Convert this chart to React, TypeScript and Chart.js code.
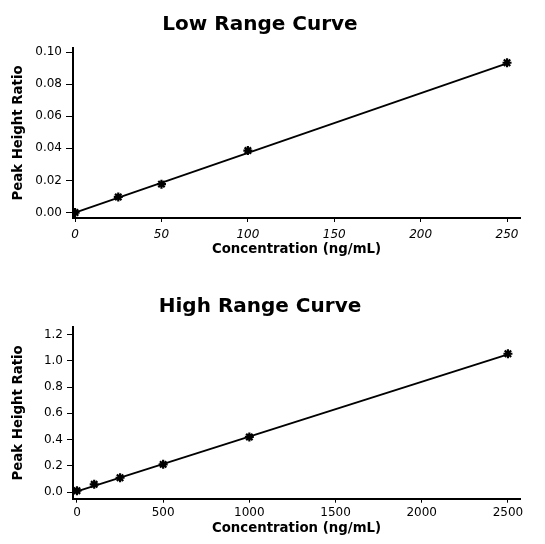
import React, { useEffect, useRef } from "react";
import { Chart, registerables } from "chart.js";

Chart.register(...registerables);

// Low range data
const lowConc = [0, 25, 50, 100, 250];
const lowRatio = [0.0, 0.0097, 0.0177, 0.0386, 0.0933];
const lowFitX = [0, 250];
const lowFitY = [-0.0001, 0.0929];
const lowXTicks = [0, 50, 100, 150, 200, 250];
const lowYTicks = [0, 0.02, 0.04, 0.06, 0.08, 0.1];

// High range data
const highConc = [0, 100, 250, 500, 1000, 2500];
const highRatio = [0.01, 0.059, 0.109, 0.211, 0.42, 1.055];
const highFitX = [0, 2500];
const highFitY = [0.005, 1.05];
const highXTicks = [0, 500, 1000, 1500, 2000, 2500];
const highYTicks = [0, 0.2, 0.4, 0.6, 0.8, 1.0, 1.2];

const FONT = "'DejaVu Sans', sans-serif";

type Cfg = {
  title: string;
  titlePad: { top: number; bottom: number };
  xs: number[];
  ys: number[];
  fitX: number[];
  fitY: number[];
  xTicks: number[];
  yTicks: number[];
  xMin: number;
  xMax: number;
  yMin: number;
  yMax: number;
  yDecimals: number;
  xItalic: boolean;
  xHeight: number;
  xTickPad: number;
  xTitlePadBottom: number;
  yTickLen: number;
};

function makeChart(canvas: HTMLCanvasElement, c: Cfg) {
  return new Chart(canvas, {
    type: "scatter",
    data: {
      datasets: [
        {
          type: "line",
          data: c.fitX.map((x, i) => ({ x, y: c.fitY[i] })),
          borderColor: "#000",
          borderWidth: 1.8,
          pointRadius: 0,
          fill: false,
        },
        {
          type: "scatter",
          data: c.xs.map((x, i) => ({ x, y: c.ys[i] })),
          pointStyle: "star",
          pointRadius: 4.5,
          borderWidth: 2.2,
          borderColor: "#000",
          backgroundColor: "#000",
        },
      ],
    },
    options: {
      responsive: false,
      animation: false,
      layout: { padding: { left: 0, right: 25, top: 0, bottom: 0 } },
      plugins: {
        legend: { display: false },
        tooltip: { enabled: false },
        title: {
          display: true,
          text: c.title,
          color: "#000",
          font: { family: FONT, size: 20, weight: "bold", lineHeight: 1.2 },
          padding: c.titlePad,
        },
      },
      scales: {
        x: {
          type: "linear",
          min: c.xMin,
          max: c.xMax,
          afterBuildTicks: (s: any) => {
            s.ticks = c.xTicks.map((v) => ({ value: v }));
          },
          afterFit: (s: any) => {
            s.height = c.xHeight;
          },
          ticks: {
            color: "#000",
            font: { family: FONT, size: 12, style: c.xItalic ? "italic" : "normal" },
            padding: c.xTickPad,
            maxRotation: 0,
            autoSkip: false,
            callback: (v: any) => String(v),
          },
          grid: {
            display: true,
            drawOnChartArea: false,
            drawTicks: true,
            tickLength: 4,
            color: "#000",
            lineWidth: 1,
          },
          border: { display: true, color: "#000", width: 2 },
          title: {
            display: true,
            text: "Concentration (ng/mL)",
            color: "#000",
            font: { family: FONT, size: 13.3, weight: "bold", lineHeight: 1.2 },
            padding: { top: 0, bottom: c.xTitlePadBottom },
          },
        },
        y: {
          type: "linear",
          min: c.yMin,
          max: c.yMax,
          afterBuildTicks: (s: any) => {
            s.ticks = c.yTicks.map((v) => ({ value: v }));
          },
          afterFit: (s: any) => {
            s.width = 73;
          },
          ticks: {
            color: "#000",
            font: { family: FONT, size: 12 },
            padding: 4,
            autoSkip: false,
            callback: (v: any) => Number(v).toFixed(c.yDecimals),
          },
          grid: {
            display: true,
            drawOnChartArea: false,
            drawTicks: true,
            tickLength: c.yTickLen,
            color: "#000",
            lineWidth: 1,
          },
          border: { display: true, color: "#000", width: 2 },
          title: {
            display: true,
            text: "Peak Height Ratio",
            color: "#000",
            font: { family: FONT, size: 13.3, weight: "bold", lineHeight: 1.2 },
            padding: { top: 11, bottom: 0 },
          },
        },
      },
    },
  } as any);
}

const lowCfg: Cfg = {
  title: "Low Range Curve",
  titlePad: { top: 12.5, bottom: 11.5 },
  xs: lowConc,
  ys: lowRatio,
  fitX: lowFitX,
  fitY: lowFitY,
  xTicks: lowXTicks,
  yTicks: lowYTicks,
  xMin: -1.2,
  xMax: 257.5,
  yMin: -0.0034,
  yMax: 0.1025,
  yDecimals: 2,
  xItalic: true,
  xHeight: 54,
  xTickPad: 6,
  xTitlePadBottom: 14.6,
  yTickLen: 7,
};

const highCfg: Cfg = {
  title: "High Range Curve",
  titlePad: { top: 22.5, bottom: 8.5 },
  xs: highConc,
  ys: highRatio,
  fitX: highFitX,
  fitY: highFitY,
  xTicks: highXTicks,
  yTicks: highYTicks,
  xMin: -23,
  xMax: 2570,
  yMin: -0.051,
  yMax: 1.259,
  yDecimals: 1,
  xItalic: false,
  xHeight: 45.3,
  xTickPad: 3,
  xTitlePadBottom: 7.6,
  yTickLen: 6,
};

function Panel({ cfg, top }: { cfg: Cfg; top: number }) {
  const ref = useRef<HTMLCanvasElement | null>(null);
  useEffect(() => {
    if (!ref.current) return;
    const ch = makeChart(ref.current, cfg);
    return () => ch.destroy();
  }, []);
  return (
    <canvas
      ref={ref}
      width={545}
      height={272}
      style={{ position: "absolute", left: 0, top, width: 545, height: 272 }}
    />
  );
}

export default function App() {
  return (
    <div
      style={{
        position: "absolute",
        left: 0,
        top: 0,
        width: 545,
        height: 544,
        background: "#fff",
      }}
    >
      <Panel cfg={lowCfg} top={0} />
      <Panel cfg={highCfg} top={272} />
    </div>
  );
}
